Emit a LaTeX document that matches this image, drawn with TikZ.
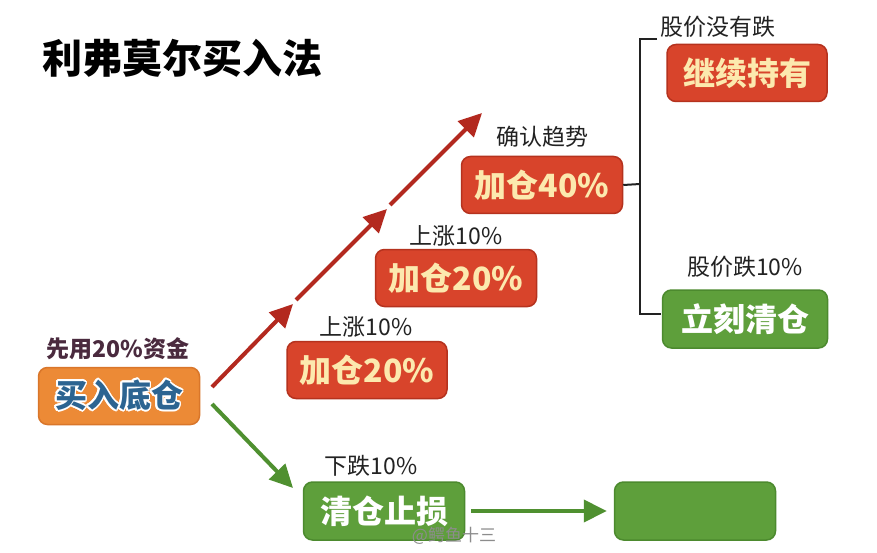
\documentclass[tikz,border=0pt]{standalone}
\usepackage{fontspec}
\setmainfont{Noto Sans CJK SC}
\newfontfamily\cjk{Noto Sans CJK SC}
\usepackage{contour}
\usetikzlibrary{arrows.meta}
\definecolor{boxred}{HTML}{D8442B}
\definecolor{boxredb}{HTML}{B5321E}
\definecolor{cream}{HTML}{FCE9AE}
\definecolor{boxgreen}{HTML}{5E9F3B}
\definecolor{boxgreenb}{HTML}{4C8A2E}
\definecolor{boxorange}{HTML}{EC8A36}
\definecolor{boxorangeb}{HTML}{D9762A}
\definecolor{bluetxt}{HTML}{2C6491}
\definecolor{arrred}{HTML}{B3291F}
\definecolor{arrgreen}{HTML}{4F9030}
\definecolor{maroon}{HTML}{4A2A3E}
\definecolor{labtxt}{HTML}{222222}
\tikzset{
  x=1pt, y=-1pt,
  basebox/.style={rounded corners=9pt, line width=1.5pt, minimum width=161pt, minimum height=57pt, inner sep=0pt, font=\cjk\bfseries\fontsize{32}{34}\selectfont},
  redbox/.style={basebox, fill=boxred, draw=boxredb, text=cream},
  greenbox/.style={basebox, fill=boxgreen, draw=boxgreenb, text=white},
  orangebox/.style={basebox, fill=boxorange, draw=boxorangeb, text=bluetxt},
  lab/.style={font=\cjk\fontsize{23}{25}\selectfont, text=labtxt, inner sep=0pt},
  redarr/.style={draw=arrred, line width=4pt, -{Triangle[length=23pt,width=22pt]}},
  greenarr/.style={draw=arrgreen, line width=4pt, -{Triangle[length=23pt,width=22pt]}},
  bracket/.style={draw=labtxt, line width=2pt},
}
\begin{document}
\begin{tikzpicture}
\useasboundingbox (0,0) rectangle (877,553);
\fill[white] (0,0) rectangle (877,553);
% title
\node[font=\cjk\bfseries\fontsize{40}{44}\selectfont, text=black, inner sep=0pt] (title) at (182,58) {利弗莫尔买入法};
% base
\node[orangebox] (base) at (119,396) {\contourlength{1.6pt}\contour{white}{\textcolor{bluetxt}{买入底仓}}};
\node[lab, text=maroon, font=\cjk\bfseries\fontsize{23}{25}\selectfont] (baselab) at (118,349) {先用20\%资金};
% red boxes
\node[redbox, minimum width=160pt] (r1) at (367,370) {加仓20\%};
\node[lab] (r1lab) at (366,327) {上涨10\%};
\node[redbox] (r2) at (456,278) {加仓20\%};
\node[lab] (r2lab) at (456,236) {上涨10\%};
\node[redbox] (r3) at (542,185) {加仓40\%};
\node[lab] (r3lab) at (542,137) {确认趋势};
\node[redbox, minimum width=160pt] (hold) at (747,73) {继续持有};
\node[lab] (holdlab) at (718,27) {股价没有跌};
% green boxes
\node[greenbox, minimum width=165pt, minimum height=58pt] (clear) at (745,319) {立刻清仓};
\node[lab] (clearlab) at (745,267) {股价跌10\%};
\node[greenbox, minimum height=58pt] (stop) at (384,511) {清仓止损};
\node[lab] (stoplab) at (371,466) {下跌10\%};
\node[greenbox, minimum height=58pt] (blur) at (695,511) {};
% red rising arrow (three segments)
\coordinate (a0) at (212,387);
\coordinate (a1) at (293,304);
\coordinate (a2) at (296,300);
\coordinate (a3) at (387,209);
\coordinate (a4) at (390,205);
\coordinate (a5) at (482,113);
\draw[redarr] (a0) -- (a1);
\draw[redarr] (a2) -- (a3);
\draw[redarr] (a4) -- (a5);
% green arrows
\coordinate (g0) at (212,404);
\coordinate (g1) at (293,488);
\draw[greenarr] (g0) -- (g1);
\draw[greenarr] ([xshift=6pt]stop.east) -- ([xshift=-7pt]blur.west);
% bracket
\coordinate (bt) at (657,39);
\coordinate (bb) at (661,314);
\draw[bracket] (bt) -- (640,39) -- (640,314) -- (bb);
\draw[bracket] (r3.east) -- (640,184);
% watermark
\node[font=\cjk\fontsize{17}{19}\selectfont, text=black!45, inner sep=0pt] (wm) at (454,536) {@鳄鱼十三};
\end{tikzpicture}
\end{document}
